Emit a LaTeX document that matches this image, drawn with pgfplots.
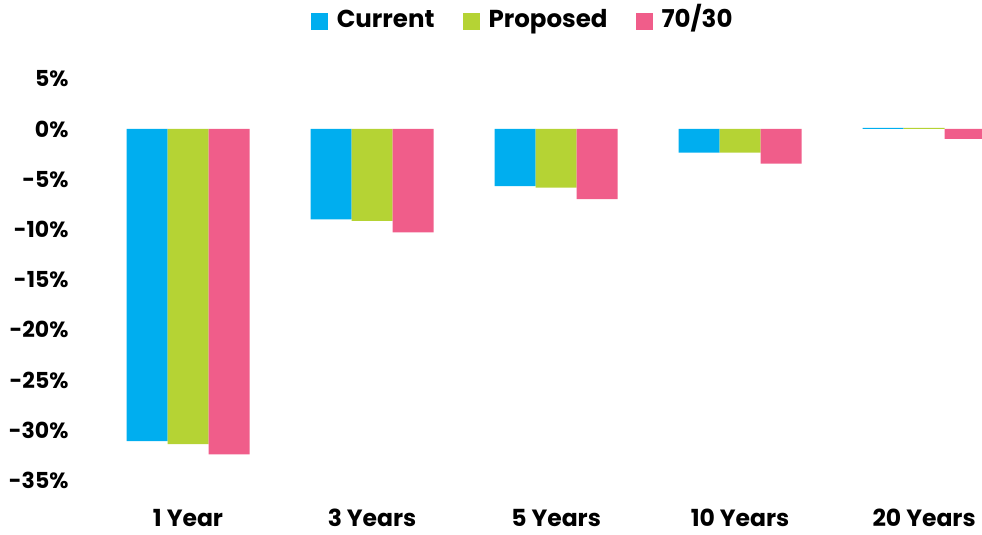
\documentclass[border=0pt]{standalone}
\usepackage{pgfplots}
\pgfplotsset{compat=1.18}
\usepackage{fontspec}
\setmainfont{Poppins}
\definecolor{ccur}{HTML}{00AEEF}
\definecolor{cprop}{HTML}{B5D334}
\definecolor{cseven}{HTML}{F05D8A}
\pgfplotsset{sqleg/.style={legend image code/.code={\fill[##1] (0pt,-8.5pt) rectangle (17pt,8.5pt);}}}
\begin{document}
\begin{tikzpicture}[x=1pt,y=1pt]
\path[use as bounding box] (0,0) rectangle (982,535);
\begin{axis}[
  at={(96pt,44.6pt)}, anchor=south west,
  scale only axis, width=887pt, height=421.7pt,
  xmin=-0.5, xmax=4.32, ymin=-36, ymax=6,
  ybar=0pt, bar width=41pt,
  axis line style={draw=none}, tick style={draw=none},
  xtick={0,1,2,3,4},
  xticklabels={1 Year,3 Years,5 Years,10 Years,20 Years},
  ytick={-35,-30,-25,-20,-15,-10,-5,0,5},
  yticklabel={\pgfmathprintnumber{\tick}\%},
  /pgf/number format/assume math mode=true,
  yticklabel style={font=\fontsize{22}{26}\selectfont\bfseries, anchor=east, xshift=-24pt},
  xticklabel style={font=\fontsize{23.5}{28}\selectfont\bfseries, anchor=north, inner sep=0pt, text depth=0pt, yshift=-14pt},
  legend columns=3,
  legend style={draw=none, at={(0.481,1.112)}, anchor=center,
    font=\fontsize{24.5}{28}\selectfont\bfseries,
    nodes={text height=17pt, text depth=5pt},
    /tikz/every odd column/.append style={column sep=7pt},
    /tikz/every even column/.append style={column sep=26pt}},
]
\addplot[fill=ccur, draw=none, sqleg] coordinates {(0,-31.1) (1,-9.0) (2,-5.7) (3,-2.35) (4,0.1)};
\addplot[fill=cprop, draw=none, sqleg] coordinates {(0,-31.4) (1,-9.15) (2,-5.85) (3,-2.35) (4,0.1)};
\addplot[fill=cseven, draw=none, sqleg] coordinates {(0,-32.4) (1,-10.3) (2,-7.0) (3,-3.45) (4,-1.0)};
\legend{Current,Proposed,70/30}
\end{axis}
\end{tikzpicture}
\end{document}
